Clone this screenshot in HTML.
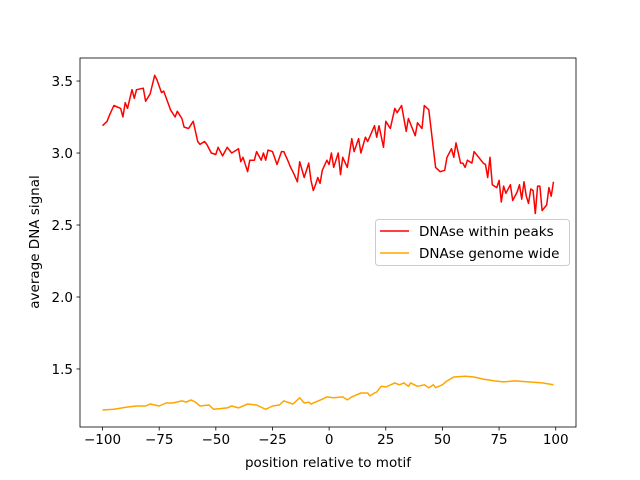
<!DOCTYPE html>
<html><head><meta charset="utf-8"><style>
body{margin:0;background:#fff}
svg{display:block;font-family:"DejaVu Sans","Liberation Sans",sans-serif}
</style></head><body>
<svg id="chart" width="640" height="480" xmlns="http://www.w3.org/2000/svg">
<rect width="640" height="480" fill="#fff"/>
<g id="plot"></g>
</svg>
<script>
const redX=[-100,-98,-97,-95,-92,-91,-90,-89,-87,-86,-85,-82,-81,-79,-77,-76,-74,-73,-70,-68,-67,-65,-64,-62,-60,-58,-57,-55,-54,-52,-50,-49,-47,-45,-43,-42,-40,-39,-38,-36,-35,-33,-32,-30,-29,-28,-27,-25,-23,-21,-20,-18,-17,-16,-14,-13,-11,-9,-8,-7,-6,-5,-4,-3,-1,0,1,2,4,5,6,8,10,11,13,14,16,17,20,21,22,24,25,27,29,30,32,34,35,38,39,41,42,44,47,49,51,52,54,55,56,58,59,60,61,63,64,66,68,69,70,71,72,74,75,76,77,78,80,81,83,84,85,86,87,88,89,90,91,92,93,94,96,97,98,99];
const redY=[3.19,3.22,3.26,3.33,3.31,3.25,3.35,3.31,3.44,3.38,3.44,3.45,3.36,3.41,3.54,3.51,3.42,3.43,3.30,3.25,3.29,3.24,3.18,3.17,3.22,3.08,3.06,3.08,3.06,3.00,2.99,3.04,2.98,3.04,3.00,3.01,3.03,2.94,2.97,2.87,2.95,2.95,3.01,2.95,3.00,2.95,3.02,3.01,2.92,3.01,3.01,2.94,2.90,2.87,2.80,2.94,2.83,2.93,2.81,2.74,2.78,2.83,2.79,2.88,2.95,2.92,3.00,2.90,3.00,2.85,2.97,2.90,3.10,3.01,3.10,3.00,3.11,3.08,3.19,3.11,3.19,3.04,3.22,3.17,3.31,3.28,3.33,3.15,3.24,3.12,3.21,3.17,3.33,3.30,2.90,2.87,2.88,2.97,3.03,2.97,3.07,2.93,2.93,2.90,2.95,2.93,3.01,2.97,2.93,2.92,2.83,2.97,2.78,2.76,2.81,2.66,2.77,2.72,2.78,2.67,2.73,2.78,2.68,2.80,2.70,2.65,2.75,2.74,2.58,2.77,2.77,2.60,2.64,2.76,2.70,2.80];
const orangeX=[-100,-95,-89,-85,-81,-79,-75,-72,-69,-65,-63,-61,-59,-57,-53,-51,-45,-43,-40,-36,-32,-28,-25,-22,-20,-16,-13,-11,-9,-8,-6,-3,-1,2,6,8,10,14,17,18,20,21,23,25,29,31,33,35,36,39,42,44,46,47,50,52,55,60,64,68,73,77,82,88,94,99];
const orangeY=[1.215,1.22,1.236,1.243,1.243,1.257,1.243,1.264,1.264,1.278,1.27,1.285,1.27,1.243,1.25,1.22,1.23,1.243,1.23,1.257,1.25,1.22,1.243,1.25,1.278,1.257,1.30,1.264,1.27,1.257,1.27,1.29,1.306,1.30,1.306,1.285,1.306,1.333,1.333,1.313,1.333,1.34,1.38,1.375,1.403,1.39,1.403,1.38,1.403,1.38,1.39,1.37,1.39,1.37,1.39,1.417,1.444,1.45,1.444,1.43,1.417,1.41,1.417,1.41,1.403,1.39];
const xTicks=[-100,-75,-50,-25,0,25,50,75,100];
const yTicks=[1.5,2.0,2.5,3.0,3.5];
const seriesNames=["DNAse within peaks","DNAse genome wide"];

const L=80,R=576,T=58,B=427;
const xMin=-109.95,xMax=108.95,yMin=1.097,yMax=3.66;
const sx=v=>L+(v-xMin)/(xMax-xMin)*(R-L);
const sy=v=>B-(v-yMin)/(yMax-yMin)*(B-T);
const NS="http://www.w3.org/2000/svg";
const g=document.getElementById('plot');
const FS=13.5;
function mk(tag,attrs,parent){const e=document.createElementNS(NS,tag);for(const k in attrs)e.setAttribute(k,attrs[k]);(parent||g).appendChild(e);return e;}

function line(xs,ys,color,name){
  const p=mk('polyline',{points:xs.map((x,i)=>sx(x).toFixed(1)+','+sy(ys[i]).toFixed(1)).join(' '),fill:'none',stroke:color,'stroke-width':1.5,'stroke-linejoin':'round'});
  
  
}
line(redX,redY,'#ff0000','series-dnase-within-peaks');
line(orangeX,orangeY,'#ffa500','series-dnase-genome-wide');

const frame=mk('rect',{x:L,y:T,width:R-L,height:B-T,fill:'none',stroke:'#000','stroke-width':0.8});



xTicks.forEach(t=>{
  const x=sx(t);
  const tk=mk('line',{x1:x,x2:x,y1:B,y2:B+3.5,stroke:'#000','stroke-width':0.8});
  
  
  const tx=mk('text',{x:x,y:B+17,'text-anchor':'middle','font-size':FS});
  tx.textContent=(t<0?'\u2212'+(-t):t);
  
  
});
yTicks.forEach(t=>{
  const y=sy(t);
  const tk=mk('line',{x1:L-3.5,x2:L,y1:y,y2:y,stroke:'#000','stroke-width':0.8});
  
  
  const tx=mk('text',{x:L-7,y:y+5,'text-anchor':'end','font-size':FS});
  tx.textContent=t.toFixed(1);
  
  
});
const xt=mk('text',{x:(L+R)/2,y:467,'text-anchor':'middle','font-size':FS});
xt.textContent='position relative to motif';


const yt=mk('text',{x:0,y:0,'text-anchor':'middle','font-size':FS,transform:'translate(39,242) rotate(-90)'});
yt.textContent='average DNA signal';



const lg=mk('g',{});


mk('rect',{x:375.5,y:219.5,width:194,height:46,rx:3,fill:'#fff','fill-opacity':0.8,stroke:'#ccc'},lg);
const colors=['#ff0000','#ffa500'];
seriesNames.forEach((n,i)=>{
  const y=231+i*22;
  const e=mk('g',{},lg);
  
  
  mk('line',{x1:380,x2:409,y1:y,y2:y,stroke:colors[i],'stroke-width':1.5},e);
  const t=mk('text',{x:419,y:y+5,'font-size':FS},e);
  t.textContent=n;
});
</script>
</body></html>
